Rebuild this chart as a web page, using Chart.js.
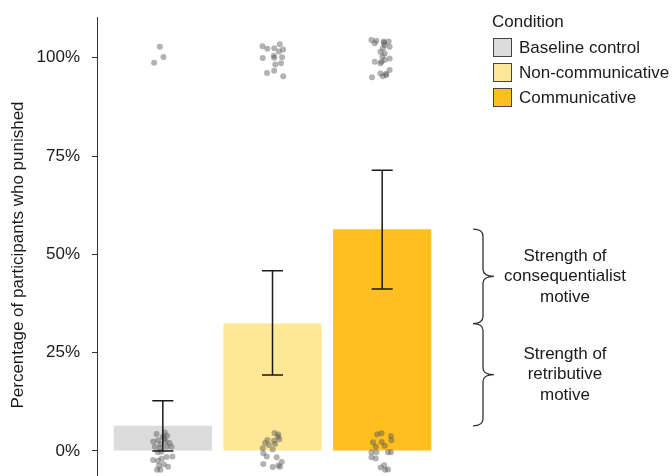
<!DOCTYPE html>
<html>
<head>
  <meta charset="UTF-8">
  <title>Percentage of participants who punished</title>
  <script src="https://cdn.jsdelivr.net/npm/chart.js"></script>
  <style>
    body {
      margin: 0;
      background: #fff;
    }
    #wrap {
      width: 672px;
      height: 476px;
    }
  </style>
</head>
<body>

  <div id="wrap">
    <canvas id="punishChart" width="672" height="476"></canvas>
  </div>

  <script>
    // --- data ---
    const conditions = ['Baseline control', 'Non-communicative', 'Communicative'];
    const categoryX = [1, 2, 3];
    const barValues = [6.4, 32.4, 56.4];           // % who punished
    const errLow = [0, 19.3, 41.2];
    const errHigh = [12.8, 45.8, 71.4];
    const tickValues = [0, 25, 50, 75, 100];
    const barColors = ['#dcdcdc', '#fee895', '#febf1f'];
    const yTitle = 'Percentage of participants who punished';

    // jittered individual responses: [x offset, y %]
    const baselinePoints = [
      [-0.027, 102.8], [0.006, 100.2], [-0.079, 98.7],
      [-0.057, 4.3], [0.018, 4.7], [0.039, 3.9], [-0.088, 2.4], [-0.043, 2.7],
      [-0.021, 1.7], [0.027, 2.4], [0.062, 2.0], [-0.073, 1.1], [-0.027, 0.7],
      [0.034, 1.1], [0.079, 1.1], [-0.012, -0.2], [-0.088, -2.3], [-0.043, -2.5],
      [-0.012, -2.0], [0.034, -1.5], [0.088, -1.4], [-0.034, -3.7], [0.009, -3.4],
      [0.048, -4.0], [-0.052, -4.8], [-0.021, -4.8], [0.0, 3.6], [0.014, 3.1],
      [-0.045, -0.3]
    ];
    const nonCommPoints = [
      [-0.091, 102.9], [-0.047, 102.3], [0.016, 102.4], [0.066, 103.4], [0.097, 102.1],
      [0.059, 101.6], [-0.089, 99.9], [0.012, 100.5], [0.016, 100.0], [0.087, 100.1],
      [0.025, 98.3], [0.077, 98.6], [0.015, 96.7], [-0.050, 96.1], [0.098, 95.3],
      [0.018, 4.6], [0.053, 4.2], [0.062, 3.0], [-0.047, 2.8], [-0.068, 2.0],
      [0.014, 2.6], [0.023, 1.8], [-0.089, 0.7], [-0.084, -0.6], [-0.053, -1.4],
      [0.002, 0.4], [0.038, -1.6], [-0.084, -3.3], [0.002, -4.1], [0.053, -3.7],
      [0.084, -2.8], [0.068, -4.0], [0.050, 3.6], [-0.032, 1.5]
    ];
    const commPoints = [
      [-0.098, 104.5], [-0.053, 104.3], [-0.068, 103.7], [0.014, 104.1], [0.059, 104.1],
      [0.023, 103.2], [0.068, 102.8], [0.007, 102.4], [-0.016, 101.5], [0.023, 101.1],
      [0.002, 100.3], [-0.068, 99.0], [-0.016, 98.6], [0.023, 99.4], [0.068, 99.8],
      [-0.007, 99.0], [0.068, 96.9], [-0.016, 96.0], [0.007, 95.3], [0.038, 95.6],
      [-0.093, 95.0], [0.016, 103.8], [0.034, 95.9],
      [-0.046, 4.2], [-0.007, 4.5], [0.080, 3.8], [0.084, 2.7], [-0.084, 2.2],
      [-0.005, 2.3], [0.023, 1.3], [-0.059, 1.1], [-0.098, -0.3], [-0.053, -0.3],
      [0.053, -0.3], [0.080, -0.3], [-0.098, -1.6], [-0.059, -1.9], [0.018, -3.6],
      [-0.014, -4.2], [0.053, -4.7], [0.027, -4.8]
    ];
    const pointSets = [baselinePoints, nonCommPoints, commPoints];

    const braceLabels = [
      ['Strength of', 'consequentialist', 'motive'],
      ['Strength of', 'retributive', 'motive']
    ];

    const FONT = '"Liberation Sans", Arial, sans-serif';
    const INK = '#1a1a1a';

    const jitterData = [];
    pointSets.forEach((set, i) => {
      set.forEach(p => jitterData.push({ x: categoryX[i] + p[0], y: p[1] }));
    });

    // error bars, legend, braces and the y title
    const extras = {
      id: 'extras',
      afterDatasetsDraw(chart) {
        const ctx = chart.ctx, xs = chart.scales.x, ys = chart.scales.y;
        ctx.save();
        ctx.strokeStyle = INK;
        ctx.lineWidth = 1.5;
        categoryX.forEach((cx, i) => {
          const px = xs.getPixelForValue(cx);
          const hw = xs.getPixelForValue(cx + 0.096) - px;
          const lo = ys.getPixelForValue(errLow[i]);
          const hi = ys.getPixelForValue(errHigh[i]);
          ctx.beginPath();
          ctx.moveTo(px, lo); ctx.lineTo(px, hi);
          ctx.moveTo(px - hw, lo); ctx.lineTo(px + hw, lo);
          ctx.moveTo(px - hw, hi); ctx.lineTo(px + hw, hi);
          ctx.stroke();
        });
        ctx.restore();
      },
      afterDraw(chart) {
        const ctx = chart.ctx, ys = chart.scales.y;
        const right = chart.chartArea.right;
        ctx.save();

        // y title (centred a bit low, like the cropped original panel)
        ctx.font = '17px ' + FONT;
        ctx.fillStyle = INK;
        ctx.textBaseline = 'middle';
        ctx.textAlign = 'center';
        ctx.save();
        ctx.translate(18, 255);
        ctx.rotate(-Math.PI / 2);
        ctx.fillText(yTitle, 0, 0);
        ctx.restore();

        // legend
        ctx.textAlign = 'left';
        ctx.fillText('Condition', right + 44, 22);
        conditions.forEach((c, i) => {
          const top = 38 + i * 25;
          ctx.fillStyle = barColors[i];
          ctx.fillRect(right + 45.5, top + 0.5, 18, 18);
          ctx.strokeStyle = '#444';
          ctx.lineWidth = 1;
          ctx.strokeRect(right + 45.5, top + 0.5, 18, 18);
          ctx.fillStyle = INK;
          ctx.fillText(c, right + 71, top + 10);
        });

        // braces between bar heights
        const spans = [[barValues[2], barValues[1]], [barValues[1], barValues[0]]];
        const x0 = right + 25, xv = right + 35, tip = right + 46;
        ctx.strokeStyle = '#333';
        ctx.lineWidth = 1.3;
        spans.forEach((s, k) => {
          const a = ys.getPixelForValue(s[0]);
          const b = ys.getPixelForValue(s[1]);
          const m = (a + b) / 2;
          ctx.beginPath();
          ctx.moveTo(x0, a);
          ctx.quadraticCurveTo(xv, a, xv, a + 7);
          ctx.lineTo(xv, m - 7);
          ctx.quadraticCurveTo(xv, m, tip, m);
          ctx.quadraticCurveTo(xv, m, xv, m + 7);
          ctx.lineTo(xv, b - 7);
          ctx.quadraticCurveTo(xv, b, x0, b);
          ctx.stroke();

          ctx.fillStyle = INK;
          ctx.textAlign = 'center';
          const lines = braceLabels[k];
          lines.forEach((t, j) => {
            ctx.fillText(t, right + 117, m + (j - (lines.length - 1) / 2) * 20.5);
          });
        });
        ctx.restore();
      }
    };

    const ctx = document.getElementById('punishChart').getContext('2d');
    const chart = new Chart(ctx, {
      type: 'bar',
      data: {
        datasets: [
          {
            type: 'scatter',
            data: jitterData,
            backgroundColor: 'rgba(85, 85, 85, 0.45)',
            borderWidth: 0,
            pointRadius: 3,
            order: 1
          },
          {
            type: 'bar',
            data: categoryX.map((x, i) => ({ x: x, y: barValues[i] })),
            backgroundColor: barColors,
            borderWidth: 0,
            barPercentage: 0.895,
            categoryPercentage: 1.0,
            order: 2
          }
        ]
      },
      options: {
        responsive: false,
        animation: false,
        layout: {
          autoPadding: false,
          padding: { top: 17, right: 224, bottom: 0, left: 0 }
        },
        plugins: {
          legend: { display: false },
          tooltip: { enabled: false }
        },
        scales: {
          x: {
            type: 'linear',
            display: false,
            offset: false,
            grid: { offset: false },
            min: 0.4,
            max: 3.6,
            afterBuildTicks: s => { s.ticks = categoryX.map(v => ({ value: v })); }
          },
          y: {
            min: -6.36,
            max: 110.35,
            afterBuildTicks: s => { s.ticks = tickValues.map(v => ({ value: v })); },
            afterFit: s => {
              s.width = 97;
              s.paddingTop = 0;
              s.paddingBottom = 0;
            },
            grid: {
              display: true,
              drawOnChartArea: false,
              drawTicks: true,
              tickLength: 5,
              color: '#333'
            },
            border: { display: true, color: '#333', width: 1 },
            ticks: {
              padding: 12,
              color: INK,
              font: { family: FONT, size: 17 },
              callback: v => v + '%'
            },
            title: { display: false }
          }
        }
      },
      plugins: [extras]
    });
  </script>

</body>
</html>
